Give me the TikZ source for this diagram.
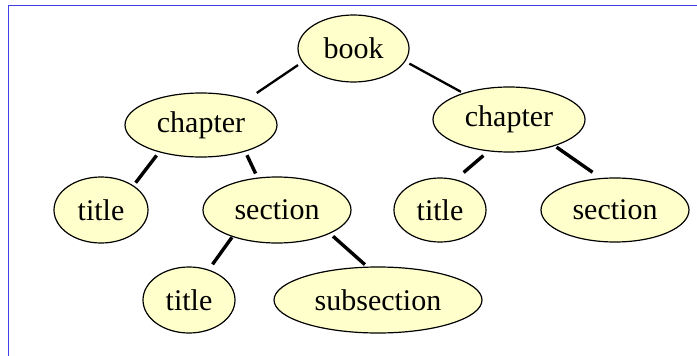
\documentclass[tikz,border=0pt]{standalone}
\usepackage{fontspec}
\setmainfont{Liberation Serif}
\usetikzlibrary{shapes.geometric}
\definecolor{leaf}{RGB}{255,255,204}
\definecolor{framecol}{RGB}{64,64,228}
\begin{document}
\begin{tikzpicture}[x=1pt, y=-1pt,
    el/.style={ellipse, draw, line width=1.2pt, fill=leaf, inner sep=0pt,
        font=\fontsize{30}{36}\selectfont},
    thin edge/.style={line width=2.3pt},
    thick edge/.style={line width=3.4pt}]
\useasboundingbox (0,0) rectangle (697,356);
\draw[framecol, line width=1.8pt](8.5,356)|-(697,5.5);

\node[el, minimum width=111pt, minimum height=67pt] (book) at (353.5,48.5) {book};
\node[el, minimum width=152pt, minimum height=64pt] (chL) at (201,125) {chapter};
\node[el, minimum width=152pt, minimum height=65pt] (chR) at (509,119.5) {chapter};
\node[el, minimum width=94pt, minimum height=66pt] (titleL) at (101,210) {title};
\node[el, minimum width=148pt, minimum height=66pt] (secM) at (277,210) {section};
\node[el, minimum width=92pt, minimum height=64pt] (titleR) at (440,210) {title};
\node[el, minimum width=148pt, minimum height=64pt] (secR) at (615,210) {section};
\node[el, minimum width=92pt, minimum height=66pt] (titleB) at (189,300) {title};
\node[el, minimum width=208pt, minimum height=66pt] (subsec) at (378,300) {subsection};

% edges leave small gaps at the ellipses
\draw[thin edge, shorten <=5pt, shorten >=11pt](book.195)--(chL.29);
\draw[thin edge, shorten <=4.5pt, shorten >=2.5pt](book.346)--(chR.150);
\draw[thick edge, shorten <=4pt, shorten >=3.5pt](chL.213)--(titleL.37);
\draw[thick edge, shorten <=4pt, shorten >=4.5pt](chL.329)--(secM.121.5);
\draw[thick edge, shorten <=6.5pt, shorten >=10.5pt](chR.237)--(titleR.63.5);
\draw[thick edge, shorten <=2pt, shorten >=10pt](chR.330)--(secR.114);
\draw[thick edge, shorten <=0.5pt, shorten >=6.5pt](secM.211)--(titleB.57.4);
\draw[thick edge, shorten <=4pt, shorten >=3pt](secM.336)--(subsec.108);
\end{tikzpicture}
\end{document}
